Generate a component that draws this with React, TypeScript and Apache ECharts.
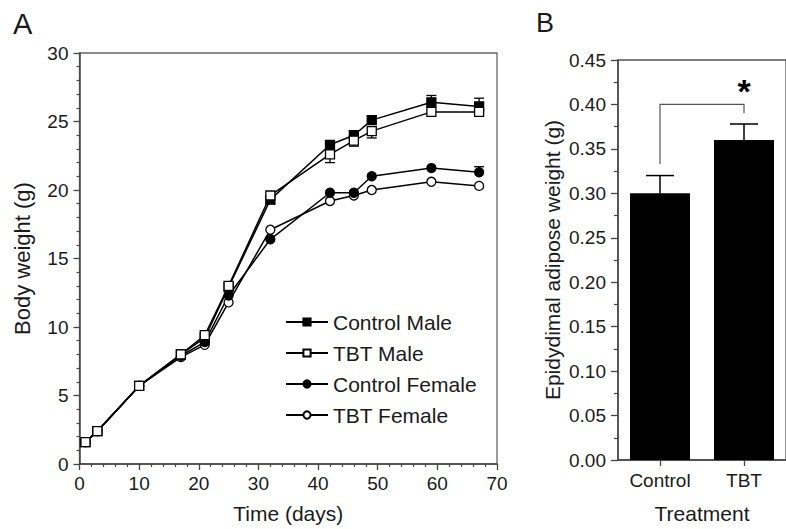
import React, { useEffect, useRef } from "react";
import * as echarts from "echarts";

// ---- Panel A data ----
const days = [1, 3, 10, 17, 21, 25, 32, 42, 46, 49, 59, 67];
const controlMale = [1.6, 2.4, 5.7, 8.0, 9.2, 12.9, 19.3, 23.3, 24.0, 25.1, 26.4, 26.1];
const tbtMale = [1.6, 2.4, 5.7, 8.0, 9.4, 13.0, 19.6, 22.6, 23.6, 24.3, 25.7, 25.7];
const controlFemale = [1.6, 2.4, 5.7, 7.9, 8.9, 12.3, 16.4, 19.8, 19.8, 21.0, 21.6, 21.3];
const tbtFemale = [1.6, 2.4, 5.7, 7.8, 8.7, 11.8, 17.1, 19.2, 19.6, 20.0, 20.6, 20.3];
// error (one-sided) for each series
const controlMaleErr = [0, 0, 0, 0, 0, 0, 0, 0.3, 0.3, 0.3, 0.5, 0.6];
const tbtMaleErr = [0, 0, 0, 0, 0, 0, 0.6, 0.6, 0.4, 0.5, 0, 0];
const controlFemaleErr = [0, 0, 0, 0, 0, 0, 0, 0, 0, 0, 0, 0.4];
const tbtFemaleErr = [0, 0, 0, 0, 0, 0, 0, 0, 0, 0, 0, 0];
const seriesNames = ["Control Male", "TBT Male", "Control Female", "TBT Female"];

// ---- Panel B data ----
const treatments = ["Control", "TBT"];
const adiposeWeight = [0.30, 0.36];
const adiposeErr = [0.02, 0.018];
// significance bracket: [leftCat, rightCat, leftBottom, rightBottom, top, starY]
const bracket = [[0, 1, 0.333, 0.39, 0.40, 0.415]];

const FONT = "'Liberation Sans', Arial, Helvetica, sans-serif";
const TXT = "#1a1a1a";
const AX = "#444";

function errRender(dir: number) {
  return (params: any, api: any) => {
    const x = api.value(0);
    const y = api.value(1);
    const e = api.value(2);
    if (!e) return null;
    const p0 = api.coord([x, y]);
    const p1 = api.coord([x, y + dir * e]);
    const st = { stroke: "#000", lineWidth: 1.3 };
    return {
      type: "group",
      children: [
        { type: "line", shape: { x1: p0[0], y1: p0[1], x2: p1[0], y2: p1[1] }, style: st },
        { type: "line", shape: { x1: p1[0] - 5, y1: p1[1], x2: p1[0] + 5, y2: p1[1] }, style: st },
      ],
    };
  };
}

export default function App() {
  const ref = useRef<HTMLDivElement>(null);
  useEffect(() => {
    document.body.style.margin = "0";
    const chart = echarts.init(ref.current!, null, { renderer: "svg" });

    const mk = (vals: number[]) => days.map((d, i) => [d, vals[i]]);
    const mkErr = (vals: number[], errs: number[]) => days.map((d, i) => [d, vals[i], errs[i]]);

    const lineSeries = (name: string, vals: number[], symbol: string, fill: string) => ({
      name,
      type: "line",
      xAxisIndex: 0,
      yAxisIndex: 0,
      data: mk(vals),
      symbol,
      symbolSize: 9,
      showSymbol: true,
      lineStyle: { color: "#000", width: 1.5 },
      itemStyle: { color: fill, borderColor: "#000", borderWidth: 1.3 },
      z: 5,
    });

    const axisCommonA = {
      axisLine: { show: true, lineStyle: { color: AX, width: 1.5 } },
      axisTick: { show: true, length: 6, lineStyle: { color: AX, width: 1.3 } },
      minorTick: { show: true, length: 3, lineStyle: { color: AX, width: 1.2 } },
      splitLine: { show: false },
      axisLabel: { fontFamily: FONT, fontSize: 19, color: TXT },
      nameTextStyle: { fontFamily: FONT, fontSize: 21, color: TXT },
    };

    chart.setOption({
      animation: false,
      backgroundColor: "#fff",
      textStyle: { fontFamily: FONT },
      graphic: [
        { type: "text", left: 13, top: 9, style: { text: "A", fontFamily: FONT, fontSize: 29, fill: TXT } },
        { type: "text", left: 536, top: 9, style: { text: "B", fontFamily: FONT, fontSize: 27, fill: TXT } },
      ],
      grid: [
        { left: 79.5, top: 53, width: 417.5, height: 415, show: true, borderColor: "#666", borderWidth: 1.3, backgroundColor: "transparent" },
        { left: 618, top: 60, width: 176, height: 409, show: true, borderColor: "#555", borderWidth: 1.3, backgroundColor: "transparent" },
      ],
      legend: {
        data: seriesNames,
        orient: "vertical",
        left: 280,
        top: 306,
        itemWidth: 42,
        itemHeight: 9,
        itemGap: 9,
        textStyle: { fontFamily: FONT, fontSize: 21, color: TXT, lineHeight: 22 },
      },
      xAxis: [
        {
          ...axisCommonA,
          gridIndex: 0,
          type: "value",
          min: 0,
          max: 70,
          interval: 10,
          minorTick: { ...axisCommonA.minorTick, splitNumber: 5 },
          axisLabel: { ...axisCommonA.axisLabel, margin: 10 },
          name: "Time (days)",
          nameLocation: "middle",
          nameGap: 39,
        },
        {
          gridIndex: 1,
          type: "category",
          data: treatments,
          axisLine: { show: true, lineStyle: { color: AX, width: 1.5 } },
          axisTick: { show: true, alignWithLabel: true, length: 6, lineStyle: { color: AX, width: 1.3 } },
          axisLabel: { fontFamily: FONT, fontSize: 19, color: TXT, margin: 11 },
          name: "Treatment",
          nameLocation: "middle",
          nameGap: 43,
          nameTextStyle: { fontFamily: FONT, fontSize: 21, color: TXT, align: "center" },
          splitLine: { show: false },
        },
      ],
      yAxis: [
        {
          ...axisCommonA,
          gridIndex: 0,
          type: "value",
          min: 0,
          max: 30,
          interval: 5,
          minorTick: { ...axisCommonA.minorTick, splitNumber: 5 },
          axisLabel: { ...axisCommonA.axisLabel, margin: 11 },
          name: "Body weight (g)",
          nameLocation: "middle",
          nameGap: 46,
          nameTextStyle: { fontFamily: FONT, fontSize: 22, color: TXT },
        },
        {
          gridIndex: 1,
          type: "value",
          min: 0,
          max: 0.45,
          interval: 0.05,
          axisLine: { show: true, lineStyle: { color: AX, width: 1.5 } },
          axisTick: { show: true, length: 7, lineStyle: { color: AX, width: 1.3 } },
          minorTick: { show: true, splitNumber: 2, length: 4, lineStyle: { color: AX, width: 1.2 } },
          splitLine: { show: false },
          axisLabel: {
            fontFamily: FONT,
            fontSize: 19,
            color: TXT,
            margin: 12,
            formatter: (v: number) => v.toFixed(2),
          },
          name: "Epidydimal adipose weight (g)",
          nameLocation: "middle",
          nameGap: 55,
          nameTextStyle: { fontFamily: FONT, fontSize: 21, color: TXT },
        },
      ],
      series: [
        { type: "custom", xAxisIndex: 0, yAxisIndex: 0, data: mkErr(controlMale, controlMaleErr), renderItem: errRender(1), z: 3, silent: true },
        { type: "custom", xAxisIndex: 0, yAxisIndex: 0, data: mkErr(tbtMale, tbtMaleErr), renderItem: errRender(-1), z: 3, silent: true },
        { type: "custom", xAxisIndex: 0, yAxisIndex: 0, data: mkErr(controlFemale, controlFemaleErr), renderItem: errRender(1), z: 3, silent: true },
        { type: "custom", xAxisIndex: 0, yAxisIndex: 0, data: mkErr(tbtFemale, tbtFemaleErr), renderItem: errRender(-1), z: 3, silent: true },
        lineSeries(seriesNames[3], tbtFemale, "circle", "#fff"),
        lineSeries(seriesNames[2], controlFemale, "circle", "#000"),
        lineSeries(seriesNames[0], controlMale, "rect", "#000"),
        lineSeries(seriesNames[1], tbtMale, "rect", "#fff"),
        {
          type: "bar",
          xAxisIndex: 1,
          yAxisIndex: 1,
          data: adiposeWeight,
          barWidth: 60,
          itemStyle: { color: "#000" },
          z: 2,
        },
        {
          type: "custom",
          xAxisIndex: 1,
          yAxisIndex: 1,
          data: adiposeWeight.map((v, i) => [i, v, adiposeErr[i]]),
          z: 3,
          renderItem: (params: any, api: any) => {
            const p0 = api.coord([api.value(0), api.value(1)]);
            const p1 = api.coord([api.value(0), api.value(1) + api.value(2)]);
            const st = { stroke: "#000", lineWidth: 1.5 };
            return {
              type: "group",
              children: [
                { type: "line", shape: { x1: p0[0], y1: p0[1], x2: p1[0], y2: p1[1] }, style: st },
                { type: "line", shape: { x1: p1[0] - 14, y1: p1[1], x2: p1[0] + 14, y2: p1[1] }, style: st },
              ],
            };
          },
        },
        {
          type: "custom",
          xAxisIndex: 1,
          yAxisIndex: 1,
          data: bracket,
          z: 3,
          renderItem: (params: any, api: any) => {
            const l = api.value(0), r = api.value(1);
            const a = api.coord([l, api.value(2)]);
            const b = api.coord([l, api.value(4)]);
            const c = api.coord([r, api.value(4)]);
            const d = api.coord([r, api.value(3)]);
            const s = api.coord([r, api.value(5)]);
            return {
              type: "group",
              children: [
                { type: "polyline", shape: { points: [a, b, c, d] }, style: { stroke: "#555", lineWidth: 1.2, fill: null } },
                {
                  type: "text",
                  x: s[0],
                  y: s[1],
                  style: { text: "*", fontFamily: FONT, fontSize: 34, fontWeight: "bold", fill: "#000", align: "center", verticalAlign: "middle" },
                },
              ],
            };
          },
        },
      ],
    });
    return () => chart.dispose();
  }, []);
  return <div ref={ref} style={{ position: "absolute", left: 0, top: 0, width: 786, height: 529 }} />;
}
